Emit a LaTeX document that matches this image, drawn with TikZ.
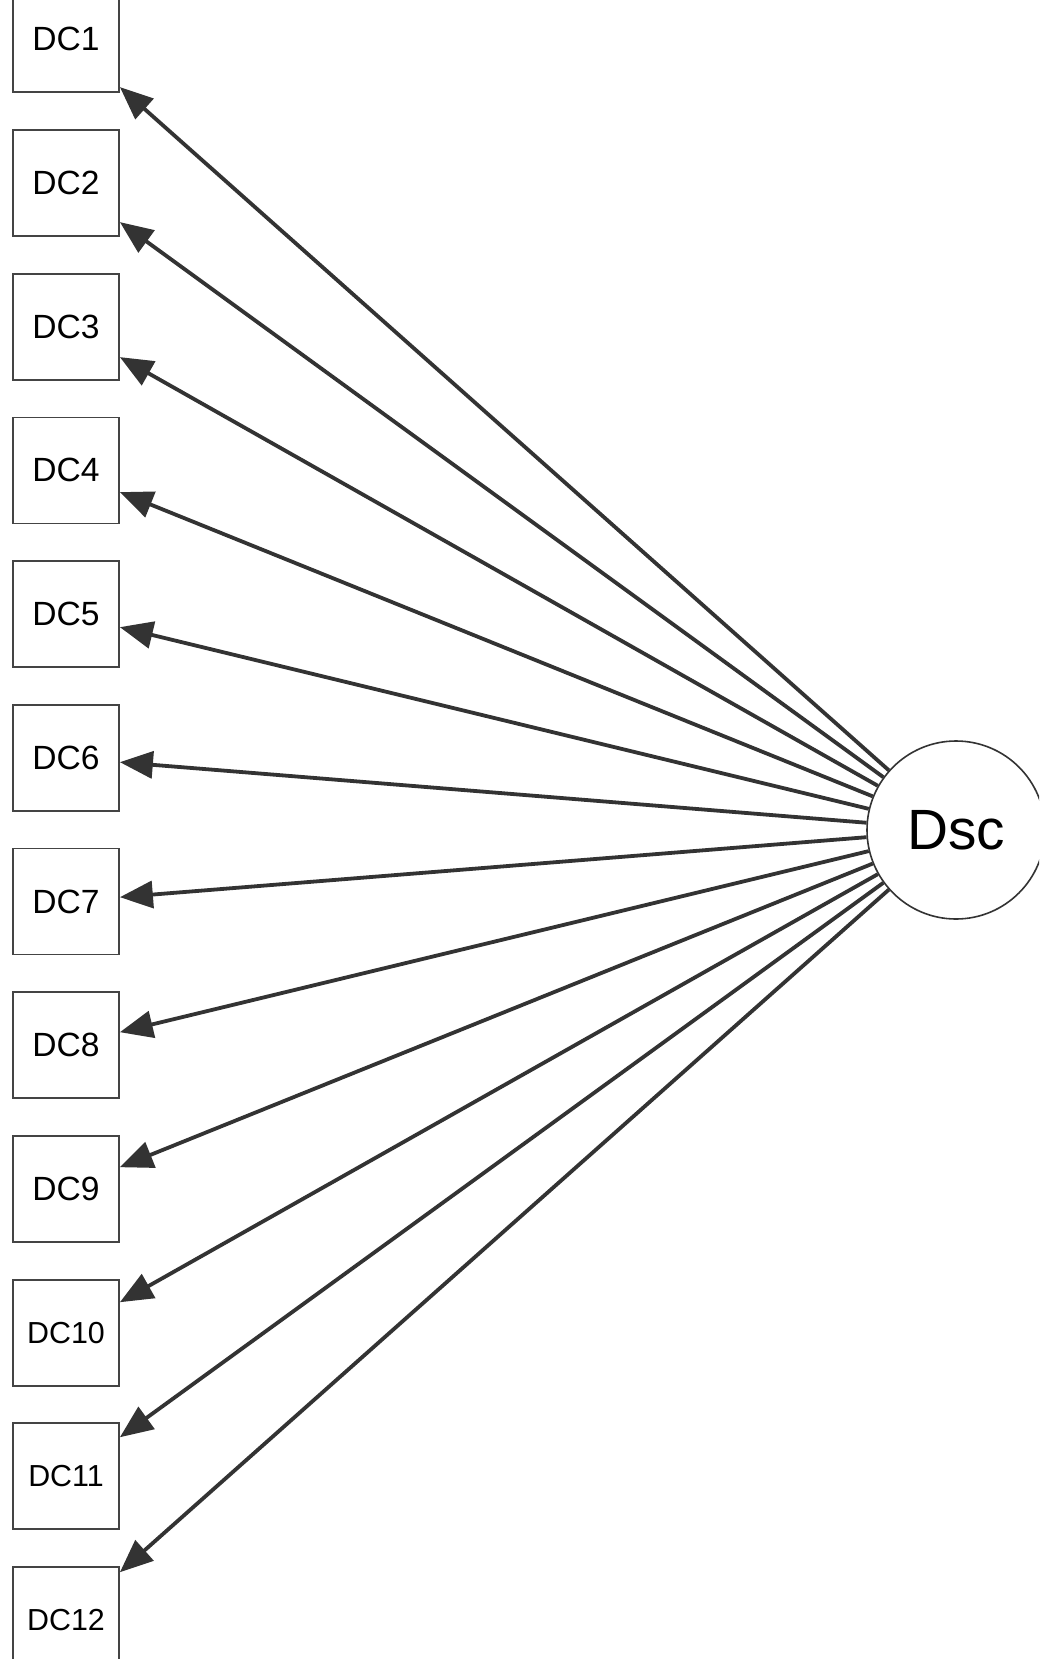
\documentclass[tikz,border=0pt]{standalone}
\usepackage{xcolor}
\usepackage{fontspec}
\setmainfont{Liberation Sans}
\usetikzlibrary{arrows.meta}

\definecolor{edgegray}{HTML}{333333}
\definecolor{boxgray}{HTML}{444444}
\tikzset{
  dcbox/.style={draw=boxgray, line width=0.9pt, fill=white, minimum size=53pt,
    inner sep=0pt, font=\fontsize{16.8}{18}\selectfont},
  dcboxsmall/.style={dcbox, font=\fontsize{15.2}{17}\selectfont},
  hub/.style={circle, draw=edgegray, line width=0.8pt, fill=white, minimum size=89pt,
    inner sep=0pt, font=\fontsize{28.4}{30}\selectfont},
  feed/.style={draw=edgegray, line width=1.9pt,
    -{Triangle[length=16.5pt,width=13.5pt,fill=edgegray]}}
}

\begin{document}
\begin{tikzpicture}
                \tikzset{x={(0.5pt, 0pt)}, y={(0pt, -0.5pt)}}
                \clip (0, 0) rectangle (1039, 1659);
                \fill[white] (0, 0) rectangle (1039, 1659);
                \node[dcbox] (dc1) at (66, 39.3) {DC1};
                \node[dcbox] (dc2) at (66, 183.0) {DC2};
                \node[dcbox] (dc3) at (66, 326.7) {DC3};
                \node[dcbox] (dc4) at (66, 470.4) {DC4};
                \node[dcbox] (dc5) at (66, 614.1) {DC5};
                \node[dcbox] (dc6) at (66, 757.8) {DC6};
                \node[dcbox] (dc7) at (66, 901.5) {DC7};
                \node[dcbox] (dc8) at (66, 1045.2) {DC8};
                \node[dcbox] (dc9) at (66, 1188.9) {DC9};
                \node[dcboxsmall] (dc10) at (66, 1332.6) {DC10};
                \node[dcboxsmall] (dc11) at (66, 1476.3) {DC11};
                \node[dcboxsmall] (dc12) at (66, 1620.0) {DC12};
                \node[hub] (dsc) at (956, 830) {Dsc};
                \draw[feed] (dsc) -- (dc1);
                \draw[feed] (dsc) -- (dc2);
                \draw[feed] (dsc) -- (dc3);
                \draw[feed] (dsc) -- (dc4);
                \draw[feed] (dsc) -- (dc5);
                \draw[feed] (dsc) -- (dc6);
                \draw[feed] (dsc) -- (dc7);
                \draw[feed] (dsc) -- (dc8);
                \draw[feed] (dsc) -- (dc9);
                \draw[feed] (dsc) -- (dc10);
                \draw[feed] (dsc) -- (dc11);
                \draw[feed] (dsc) -- (dc12);
            \end{tikzpicture}
\end{document}
